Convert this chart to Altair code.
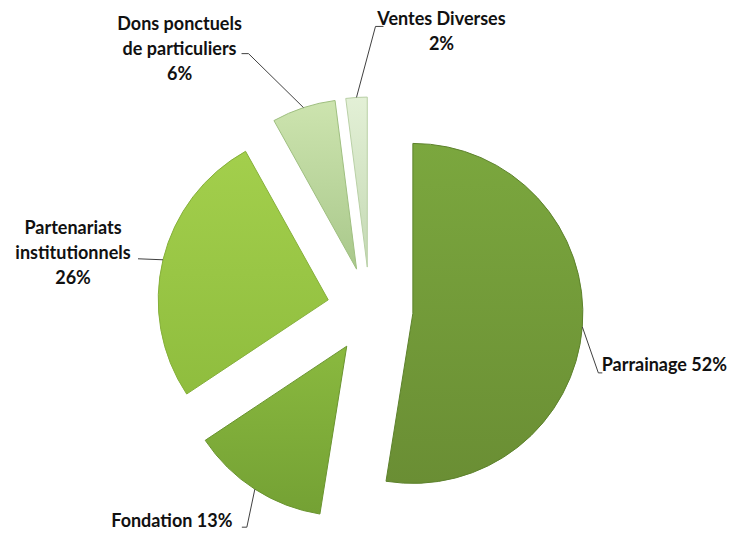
import math
import altair as alt
import pandas as pd

# ---- data ----
categories = [
    "Parrainage",
    "Fondation",
    "Partenariats institutionnels",
    "Dons ponctuels de particuliers",
    "Ventes Diverses",
]
percents = [52, 13, 26, 6, 2]
label_texts = [
    "Parrainage 52%",
    "Fondation 13%",
    "Partenariats\ninstitutionnels\n26%",
    "Dons ponctuels\nde particuliers\n6%",
    "Ventes Diverses\n2%",
]

# ---- styles / layout ----
grad_top = ["#7ba73e", "#8ab93f", "#a3cf4c", "#cde4af", "#e3f0d6"]
grad_bot = ["#6a8e34", "#74a134", "#8fbd3e", "#a9c88b", "#c4d9b4"]
strokes = ["#5d822c", "#6a9430", "#86b03a", "#9fbf80", "#b9d0a6"]
CX, CY, R, EXPLODE = 362, 302, 170, 43
START = 0.0
elbow_off = [(16, 46), (-8, 38), (-25, -1), (-55, -54), (19, -71)]
end_off = [(20, 46), (-13, 38), (-25, -1), (-62, -54), (27, -71)]
label_off = [(82, 39), (-83, 33), (-90, -31), (-124, -83), (85, -77)]

total = sum(percents)
rows, line_rows, text_rows = [], [], []
cum = 0
for i, (cat, p) in enumerate(zip(categories, percents)):
    a0 = START + 2 * math.pi * cum / total
    cum += p
    a1 = START + 2 * math.pi * cum / total
    mid = (a0 + a1) / 2
    cx = CX + EXPLODE * math.sin(mid)
    cy = CY - EXPLODE * math.cos(mid)
    rows.append(dict(category=cat, a0=a0, a1=a1, cx=cx, cy=cy,
                     stroke=strokes[i]))
    ax = cx + R * math.sin(mid)
    ay = cy - R * math.cos(mid)
    pts = [(ax, ay),
           (ax + elbow_off[i][0], ay + elbow_off[i][1]),
           (ax + end_off[i][0], ay + end_off[i][1])]
    for k, (px, py) in enumerate(pts):
        line_rows.append(dict(category=cat, k=k, x=px, y=py))
    text_rows.append(dict(category=cat, label=label_texts[i],
                          x=ax + label_off[i][0], y=ay + label_off[i][1]))

slices = pd.DataFrame(rows)
leaders = pd.DataFrame(line_rows)
texts = pd.DataFrame(text_rows)

layers = []
for i, cat in enumerate(categories):
    grad = alt.LinearGradient(
        gradient="linear", x1=0, y1=0, x2=0, y2=1,
        stops=[alt.GradientStop(color=grad_top[i], offset=0),
               alt.GradientStop(color=grad_bot[i], offset=1)],
    )
    layers.append(
        alt.Chart(slices).transform_filter(alt.datum.category == cat)
        .mark_arc(radius=R, strokeWidth=1, fill=grad)
        .encode(
            x=alt.X("cx:Q", scale=None, axis=None),
            y=alt.Y("cy:Q", scale=None, axis=None),
            theta=alt.Theta("a0:Q", scale=None),
            theta2="a1:Q",
            stroke=alt.Stroke("stroke:N", scale=None, legend=None),
        )
    )

lines = alt.Chart(leaders).mark_line(color="#404040", strokeWidth=1).encode(
    x=alt.X("x:Q", scale=None, axis=None),
    y=alt.Y("y:Q", scale=None, axis=None),
    detail="category:N",
    order="k:Q",
)

labels = alt.Chart(texts).mark_text(
    font="Lato", fontSize=18, fontWeight="bold", lineBreak="\n",
    lineHeight=25, align="center", baseline="middle", color="#111111",
).encode(
    x=alt.X("x:Q", scale=None, axis=None),
    y=alt.Y("y:Q", scale=None, axis=None),
    text="label:N",
)

chart = alt.layer(*layers, lines, labels).properties(
    width=721, height=525, padding=0, autosize=alt.AutoSizeParams(type="none"),
    background="white",
).configure_view(stroke=None)

chart.save("out.html", embed_options={"renderer": "svg", "actions": False})
